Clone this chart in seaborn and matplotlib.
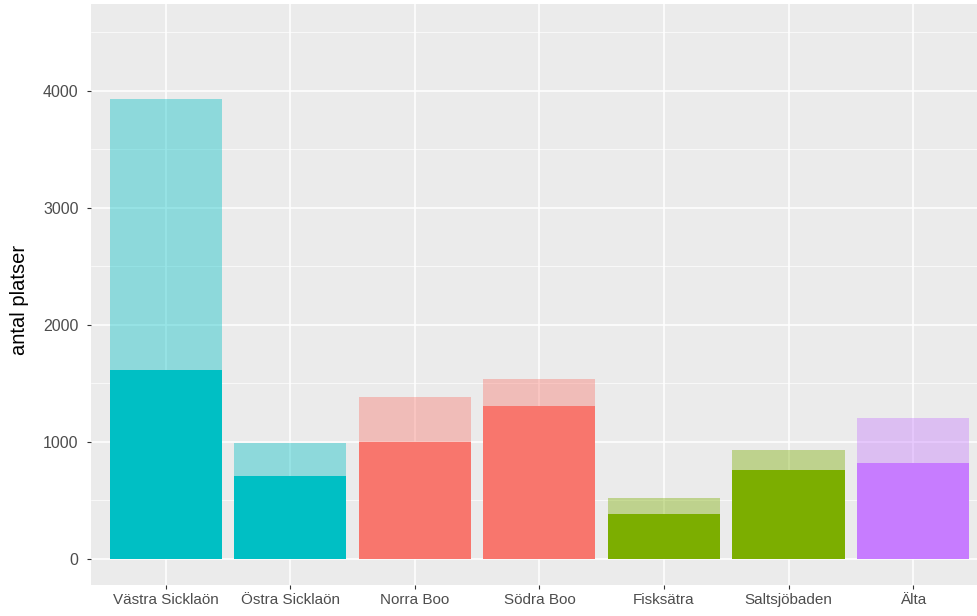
import pandas as pd
import matplotlib
matplotlib.use('Agg')
import matplotlib.pyplot as plt
import seaborn as sns
from matplotlib.ticker import MultipleLocator

# --- Data ---
omraden = ['Västra Sicklaön', 'Östra Sicklaön', 'Norra Boo', 'Södra Boo',
           'Fisksätra', 'Saltsjöbaden', 'Älta']
totalt = [3930, 985, 1385, 1535, 520, 930, 1205]
nuvarande = [1615, 710, 1000, 1305, 385, 760, 820]
farger = ['#00BFC4', '#00BFC4', '#F8766D', '#F8766D', '#7CAE00', '#7CAE00', '#C77CFF']

df = pd.DataFrame({'omrade': omraden, 'totalt': totalt, 'nuvarande': nuvarande})

# --- Style ---
sns.set_theme(style='darkgrid', rc={
    'axes.facecolor': '#EBEBEB',
    'grid.color': 'white',
    'axes.edgecolor': '#EBEBEB',
})
plt.rcParams['font.family'] = ['Liberation Sans', 'DejaVu Sans']

fig = plt.figure(figsize=(9.77, 6.16), dpi=100)
ax = fig.add_axes([0.0931, 0.0503, 0.918, 0.9432])

# --- Bars: total (light) behind, current (solid) in front ---
sns.barplot(data=df, x='omrade', y='totalt', hue='omrade', palette=farger,
            saturation=1, alpha=0.4, width=0.9, legend=False, ax=ax, zorder=2)
sns.barplot(data=df, x='omrade', y='nuvarande', hue='omrade', palette=farger,
            saturation=1, width=0.9, legend=False, ax=ax, zorder=3)
for p in ax.patches:
    p.set_linewidth(0)

# --- Axes ---
ax.set_xlim(-0.6, 6.6)
ax.set_ylim(-225, 4740)
ax.yaxis.set_major_locator(MultipleLocator(1000))
ax.yaxis.set_minor_locator(MultipleLocator(500))
ax.grid(which='major', color='white', linewidth=1.1, zorder=0)
ax.grid(which='minor', axis='y', color='white', linewidth=0.5, zorder=0)
ax.set_axisbelow(True)
for s in ax.spines.values():
    s.set_visible(False)

ax.set_xlabel('')
ax.set_ylabel('antal platser', fontsize=14.5, color='black')
ax.yaxis.set_label_coords(-0.069, 0.49)
ax.tick_params(axis='x', which='major', labelsize=11, labelcolor='#4D4D4D',
               color='#333333', length=3, width=0.8, pad=3, bottom=True)
ax.tick_params(axis='y', which='major', labelsize=11.5, labelcolor='#4D4D4D',
               color='#333333', length=3, width=0.8, pad=6, left=True)
ax.tick_params(axis='y', which='minor', length=0)

fig.savefig('out.png', dpi=100)
